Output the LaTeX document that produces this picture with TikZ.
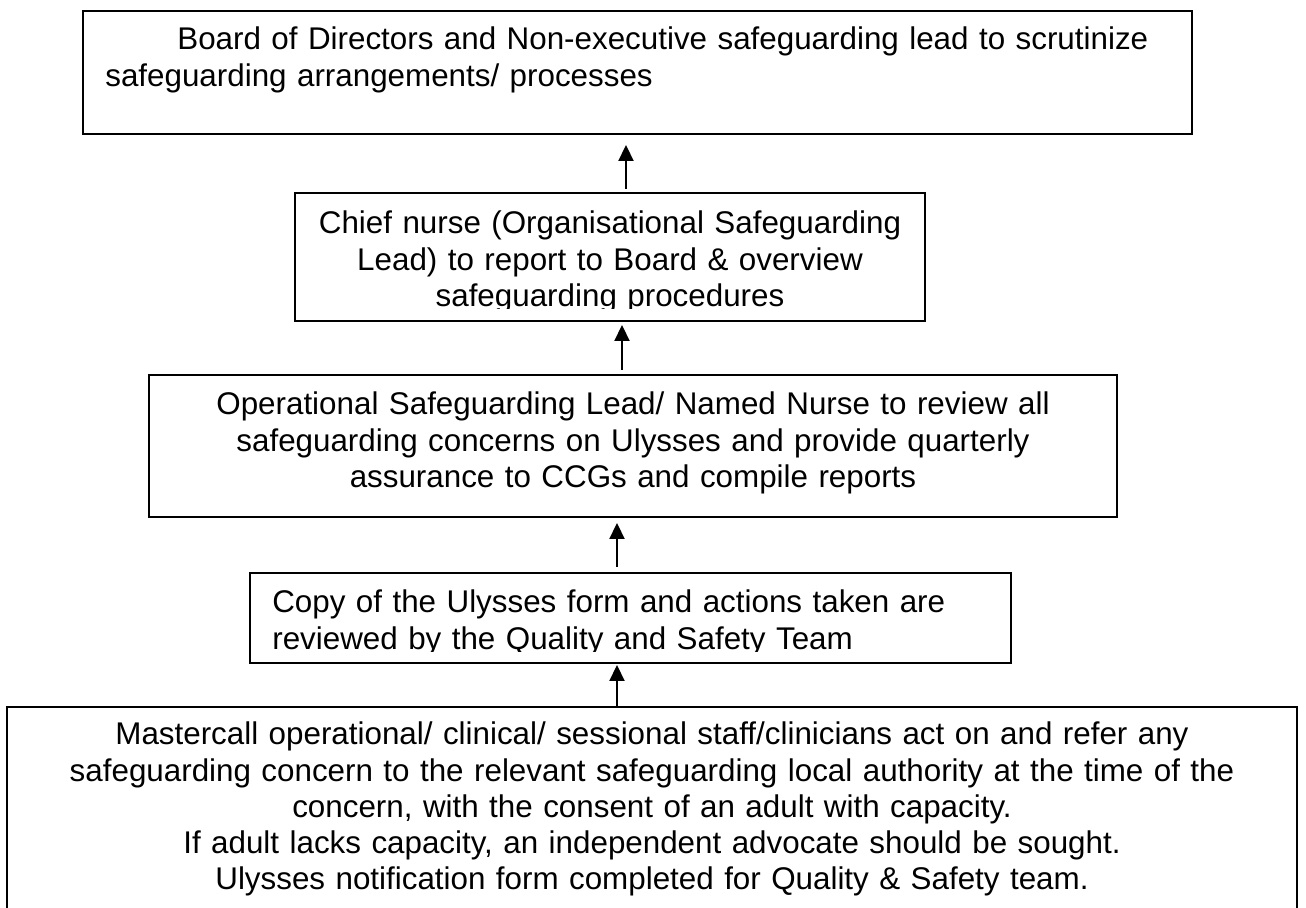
\documentclass[tikz,border=0pt]{standalone}
\usepackage{fontspec}
\setmainfont{Liberation Sans}
\usetikzlibrary{arrows.meta}

\tikzset{
	box/.style={draw, line width=0.04cm, inner sep=0pt, outer sep=0pt, anchor=north west},
	boxtext/.style={inner sep=0pt, font=\fontsize{17.85}{20.5}\selectfont},
	uparrow/.style={line width=0.04cm, -{Triangle[width=0.3cm, length=0.32cm]}}
}

\begin{document}
\begin{tikzpicture}[x=0.02cm, y=-0.02cm]
		\useasboundingbox (0, 0) rectangle (1306, 908);
		\clip (0, 0) rectangle (1306, 908);
		
		\node[box, minimum width=22.18cm, minimum height=2.46cm] (board) at (83, 11) {};
		\node[box, minimum width=12.6cm, minimum height=2.56cm] (chief) at (295, 193) {};
		\node[box, minimum width=19.36cm, minimum height=2.84cm] (oper) at (149, 375) {};
		\node[box, minimum width=15.22cm, minimum height=1.8cm] (copy) at (250, 573) {};
		\node[box, minimum width=25.8cm, minimum height=4.6cm] (bottom) at (7, 707) {};
		
		\node[boxtext, text width=21.5cm, align=left, anchor=base west] (boardtext) at (105, 50)
			{\hspace*{1.44cm}Board of Directors and Non-executive safeguarding lead to scrutinize\\ safeguarding arrangements/ processes};
		\begin{scope}
			\clip (295, 193) rectangle (925, 309);
			\node[boxtext, text width=12.2cm, align=center, anchor=base] (chieftext) at (610, 234)
				{Chief nurse (Organisational Safeguarding\\ Lead) to report to Board \& overview\\ safeguarding procedures};
		\end{scope}
		\node[boxtext, text width=18cm, align=center, anchor=base] (opertext) at (633, 415)
			{Operational Safeguarding Lead/ Named Nurse to review all\\ safeguarding concerns on Ulysses and provide quarterly\\ assurance to CCGs and compile reports};
		\begin{scope}
			\clip (250, 573) rectangle (1011, 652);
			\node[boxtext, text width=14.5cm, align=left, anchor=base west] (copytext) at (272, 613)
				{Copy of the Ulysses form and actions taken are\\ reviewed by the Quality and Safety Team};
		\end{scope}
		\node[boxtext, text width=25cm, align=center, anchor=base] (bottomtext) at (652, 745)
			{Mastercall operational/ clinical/ sessional staff/clinicians act on and refer any\\ safeguarding concern to the relevant safeguarding local authority at the time of the\\ concern, with the consent of an adult with capacity.\\ If adult lacks capacity, an independent advocate should be sought.\\ Ulysses notification form completed for Quality \& Safety team.};
		
		\coordinate (a1) at (626, 0);
		\coordinate (a2) at (622, 0);
		\coordinate (a3) at (617, 0);
		\coordinate (a4) at (617, 0);
		
		\path[uparrow, shorten <=0.08cm, shorten >=0.22cm] (chief.north -| a1) edge (board.south -| a1);
		\path[uparrow, shorten <=0.1cm, shorten >=0.08cm] (oper.north -| a2) edge (chief.south -| a2);
		\path[uparrow, shorten <=0.12cm, shorten >=0.12cm] (copy.north -| a3) edge (oper.south -| a3);
		\path[uparrow, shorten >=0.04cm] (bottom.north -| a4) edge (copy.south -| a4);
	\end{tikzpicture}
\end{document}
